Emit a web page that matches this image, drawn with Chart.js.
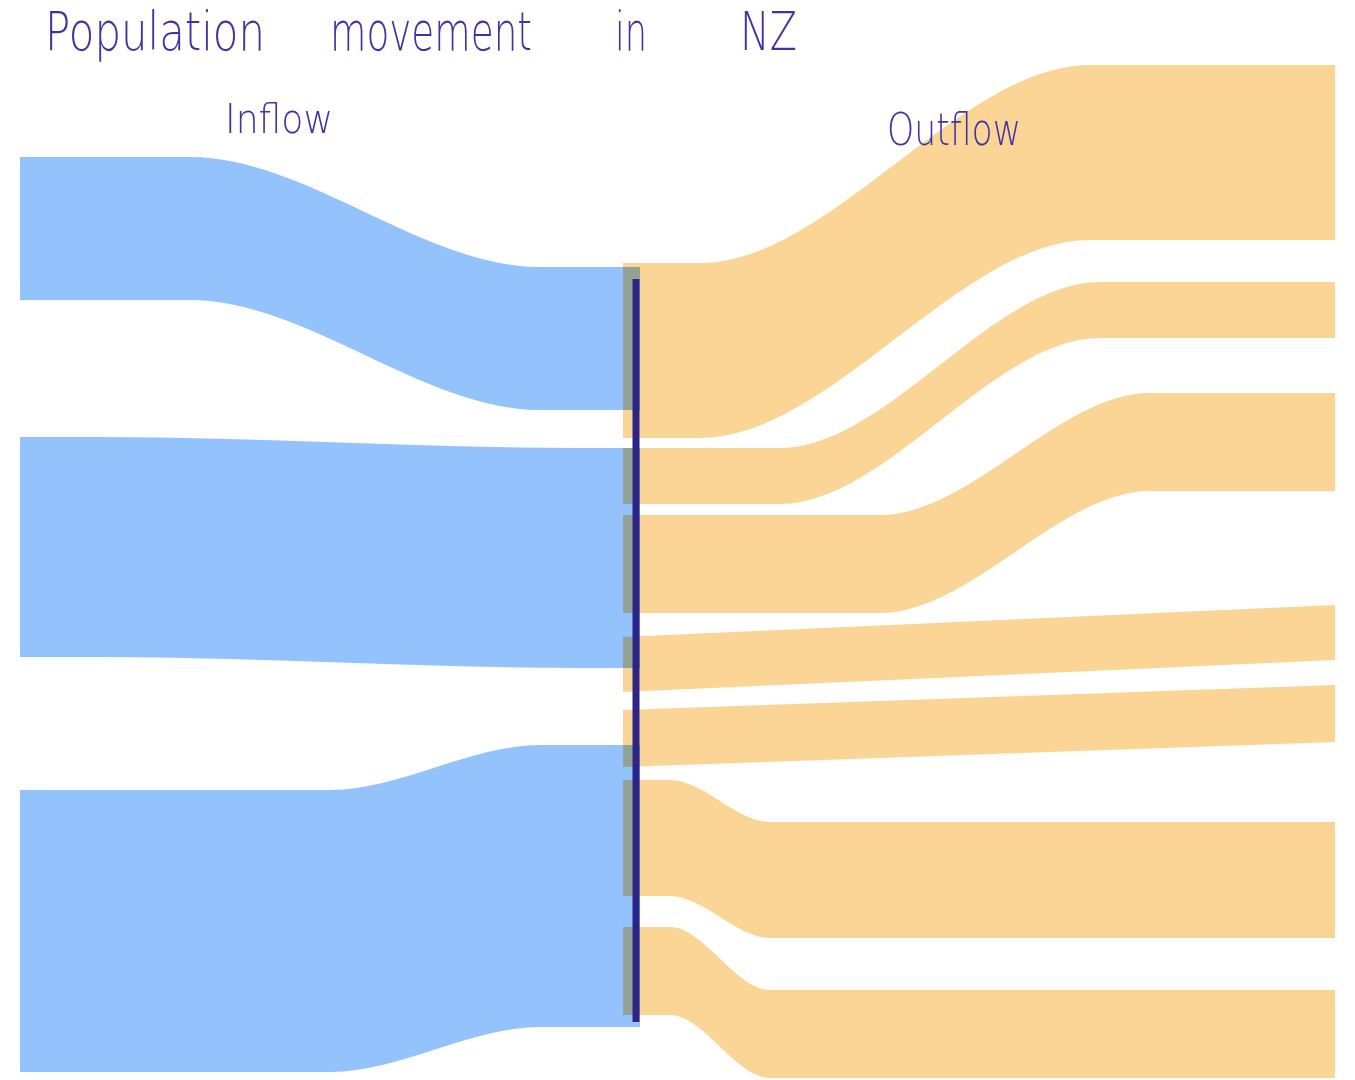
<!DOCTYPE html>
<html lang="en">
<head>
    <meta charset="UTF-8">
    <title>Population movement in NZ</title>
    <script src="https://cdn.jsdelivr.net/npm/chart.js"></script>
    <style>
        html, body { margin: 0; padding: 0; background: #fff; }
        .wrap { width: 1355px; height: 1080px; }
    </style>
</head>
<body>
    <div class="wrap"><canvas id="flowChart" width="1355" height="1080"></canvas></div>

    <script>
        // ---- data (flow sizes, same units as the vertical axis) ----
        const chartTitle = 'Population movement in NZ';
        const sideLabels = ['Inflow', 'Outflow'];
        const inflowLabels = ['Inflow A', 'Inflow B', 'Inflow C'];
        const inflowValues = [143, 220, 282];
        const outflowLabels = ['Outflow A', 'Outflow B', 'Outflow C', 'Outflow D', 'Outflow E', 'Outflow F', 'Outflow G'];
        const outflowValues = [175, 56, 98, 55, 57, 116, 88];

        // ---- layout: where the stacks start and the gaps between bands ----
        const inflowOuter = { start: 157, gaps: [137, 133] };
        const inflowInner = { start: 267, gaps: [38, 77] };
        const outflowInner = { start: 263, gaps: [10, 11, 24, 18, 13, 31] };
        const outflowOuter = { start: 65, gaps: [42, 55, 114, 25, 80, 52] };
        const xLeft = 20, xMid = 636, xRight = 1335;
        const inflowBends = [[190, 540], [100, 580], [330, 540]];
        const outflowBends = [[700, 1090], [780, 1100], [880, 1150], null, null, [670, 770], [670, 770]];

        const blue = '#94c2fd';
        const orange = '#fbd595';
        const ink = '#4034a4';

        function stackTops(values, layout) {
            const tops = [];
            let y = layout.start;
            values.forEach((v, i) => {
                tops.push(y);
                y += v + (layout.gaps[i] || 0);
            });
            return tops;
        }

        function edge(x0, x1, bend, yStart, yEnd) {
            const xs = bend ? [x0, bend[0], bend[1], x1] : [x0, x1];
            const ys = bend ? [yStart, yStart, yEnd, yEnd] : [yStart, yEnd];
            return xs.map((x, i) => ({ x: x, y: ys[i] }));
        }

        function bandDatasets(values, outerTops, innerTops, xFrom, xTo, bends, color, fromOuter, order) {
            const sets = [];
            values.forEach((v, i) => {
                const a = fromOuter ? outerTops[i] : innerTops[i];
                const b = fromOuter ? innerTops[i] : outerTops[i];
                const common = {
                    borderColor: 'transparent',
                    borderWidth: 1,
                    pointRadius: 0,
                    cubicInterpolationMode: 'monotone',
                    order: order
                };
                sets.push(Object.assign({ data: edge(xFrom, xTo, bends[i], a, b), fill: false }, common));
                sets.push(Object.assign({ data: edge(xFrom, xTo, bends[i], a + v, b + v), fill: '-1', backgroundColor: color }, common));
            });
            return sets;
        }

        const inOuterTops = stackTops(inflowValues, inflowOuter);
        const inInnerTops = stackTops(inflowValues, inflowInner);
        const outInnerTops = stackTops(outflowValues, outflowInner);
        const outOuterTops = stackTops(outflowValues, outflowOuter);

        const lineTop = Math.min(inInnerTops[0], outInnerTops[0]) + 16;
        const lineBottom = Math.max(
            inInnerTops[inInnerTops.length - 1] + inflowValues[inflowValues.length - 1],
            outInnerTops[outInnerTops.length - 1] + outflowValues[outflowValues.length - 1]
        ) - 5;

        const datasets = [
            {
                data: [{ x: xMid, y: lineTop }, { x: xMid, y: lineBottom }],
                borderColor: '#2c2488',
                borderWidth: 7,
                pointRadius: 0,
                fill: false,
                order: 0
            }
        ].concat(
            bandDatasets(outflowValues, outOuterTops, outInnerTops, xMid - 13, xRight, outflowBends, orange, false, 1),
            bandDatasets(inflowValues, inOuterTops, inInnerTops, xLeft, xMid + 4, inflowBends, blue, true, 2)
        );

        // orange laid over blue like a marker, then hand-drawn looking labels on top
        const handLabels = {
            id: 'handLabels',
            beforeDraw(chart) {
                chart.ctx.globalCompositeOperation = 'multiply';
            },
            beforeDatasetDraw(chart, args) {
                if (args.index === 0) chart.ctx.globalCompositeOperation = 'source-over';
            },
            afterDatasetsDraw(chart) {
                const ctx = chart.ctx;
                const xs = chart.scales.x, ys = chart.scales.y;
                ctx.save();
                ctx.globalCompositeOperation = 'source-over';
                ctx.fillStyle = ink;
                ctx.textBaseline = 'alphabetic';
                ctx.textAlign = 'left';

                // title words spread out like the sketch
                const words = chartTitle.split(' ');
                const wordX = [45, 330, 615, 740];
                const wordW = [220, 202, 32, 57];
                ctx.font = '200 54px "DejaVu Sans", sans-serif';
                words.forEach((w, i) => {
                    ctx.fillText(w, xs.getPixelForValue(wordX[i]), ys.getPixelForValue(50), wordW[i]);
                });

                ctx.font = '200 41px "DejaVu Sans", sans-serif';
                ctx.fillText(sideLabels[0], xs.getPixelForValue(225), ys.getPixelForValue(133), 108);
                ctx.font = '200 45px "DejaVu Sans", sans-serif';
                ctx.fillText(sideLabels[1], xs.getPixelForValue(887), ys.getPixelForValue(145), 134);
                ctx.restore();
            },
            afterDraw(chart) {
                chart.ctx.globalCompositeOperation = 'source-over';
            }
        };

        const ctx = document.getElementById('flowChart').getContext('2d');
        const flowChart = new Chart(ctx, {
            type: 'line',
            data: { datasets: datasets },
            options: {
                responsive: false,
                animation: false,
                events: [],
                layout: { padding: 0 },
                scales: {
                    x: { type: 'linear', min: 0, max: 1355, display: false },
                    y: { type: 'linear', min: 0, max: 1080, reverse: true, display: false }
                },
                plugins: {
                    legend: { display: false },
                    tooltip: { enabled: false },
                    title: { display: false }
                }
            },
            plugins: [handLabels]
        });
    </script>
</body>
</html>
